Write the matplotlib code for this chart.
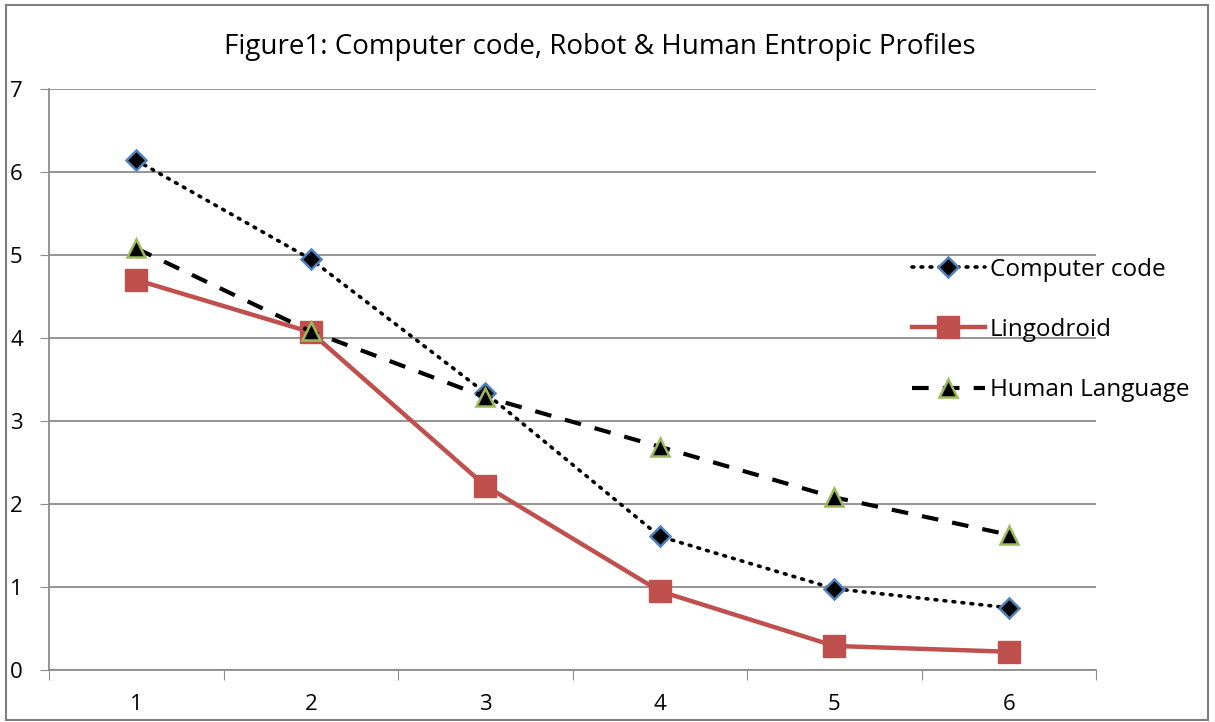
import numpy as np
import matplotlib.pyplot as plt
from matplotlib.patches import Rectangle

plt.rcParams['font.family'] = ['Open Sans', 'DejaVu Sans']

steps = [1, 2, 3, 4, 5, 6]
computer_code = [6.14, 4.95, 3.34, 1.61, 0.98, 0.75]
lingodroid = [4.70, 4.07, 2.22, 0.95, 0.29, 0.22]
human_lang = [5.08, 4.08, 3.29, 2.69, 2.08, 1.63]

fig = plt.figure(figsize=(12.15, 7.22), dpi=100)
ax = fig.add_axes([49/1215, 1-670/722, (1096-49)/1215, (670-89)/722])

# outer chart frame
fig.patches.append(Rectangle((6/1215, 1-720/722), (1208-6)/1215, (720-5)/722,
                             transform=fig.transFigure, fill=False,
                             edgecolor='#7f7f7f', lw=1.5))

grid_c = '#8c8c8c'
ax.plot(steps, computer_code, ls=(0, (0.5, 2.0)), dash_capstyle='round', color='black', lw=2.6,
        marker='D', ms=10, mfc='black', mec='#4f81bd', mew=1.8, label='Computer code', zorder=3)
ax.plot(steps, lingodroid, '-', color='#c0504d', lw=3.2,
        marker='s', ms=16, mfc='#c0504d', mec='#c0504d', label='Lingodroid', zorder=3)
ax.plot(steps, human_lang, ls=(0, (4, 3.4)), color='black', lw=3,
        marker='^', ms=13, mfc='black', mec='#9bbb59', mew=1.8, label='Human Language', zorder=3)

ax.set_xlim(0.5, 6.5)
ax.set_ylim(0, 7)
ax.set_xticks(np.arange(0.5, 7, 1))
ax.set_xticklabels([])
ax.set_xticks(steps, minor=True)
ax.set_xticklabels([str(s) for s in steps], minor=True, fontsize=16)
ax.tick_params(axis='x', which='minor', length=0, pad=17)
ax.tick_params(axis='x', which='major', length=7, color=grid_c, direction='out')
ax.set_yticks(range(0, 8))
ax.set_yticklabels([str(v) for v in range(0, 8)], fontsize=16, ha='left')
ax.tick_params(axis='y', length=6.5, color=grid_c, pad=21.5)
ax.yaxis.grid(True, color=grid_c, lw=1.3)
ax.set_axisbelow(True)
for s in ['top', 'right']:
    ax.spines[s].set_visible(False)
for s in ['left', 'bottom']:
    ax.spines[s].set_color(grid_c)
    ax.spines[s].set_linewidth(1.3)

fig.text(600/1215, 1-47/722, 'Figure1: Computer code, Robot & Human Entropic Profiles',
         ha='center', va='center', fontsize=20)

leg = ax.legend(loc='center left', bbox_to_anchor=(890/1215, 1-330/722),
                bbox_transform=fig.transFigure, frameon=False, fontsize=17.5,
                handlelength=3.0, labelspacing=1.5, handletextpad=0.2)

fig.savefig('out.png', dpi=100)
